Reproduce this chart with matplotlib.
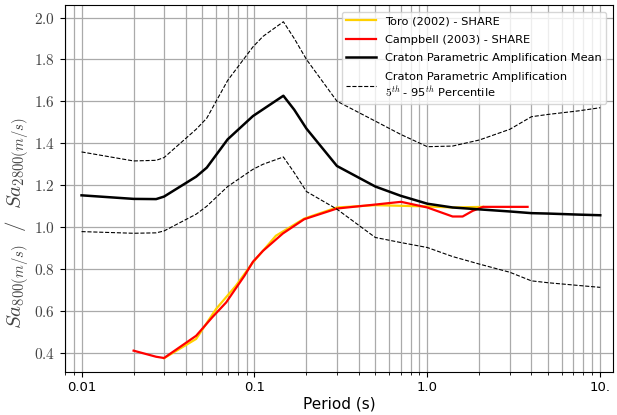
import numpy as np
import matplotlib
matplotlib.use('Agg')
import matplotlib.pyplot as plt
from matplotlib.ticker import FixedLocator, FuncFormatter, NullFormatter

plt.rcParams['mathtext.fontset'] = 'cm'
plt.rcParams['font.family'] = 'DejaVu Sans'

# Craton parametric amplification (mean, 5th and 95th percentile)
per_craton = [0.01, 0.02, 0.027, 0.03, 0.046, 0.053, 0.07, 0.098, 0.112, 0.147,
              0.17, 0.2, 0.3, 0.5, 0.7, 1.0, 1.4, 2.0, 3.0, 4.0, 5.0, 7.5, 10.0]
craton_mean = [1.152, 1.135, 1.134, 1.146, 1.241, 1.284, 1.419, 1.530, 1.562, 1.627,
               1.56, 1.47, 1.292, 1.194, 1.15, 1.112, 1.094, 1.085, 1.075, 1.067,
               1.065, 1.06, 1.057]
craton_p95 = [1.359, 1.316, 1.319, 1.332, 1.467, 1.52, 1.70, 1.86, 1.91, 1.98,
              1.90, 1.80, 1.601, 1.506, 1.443, 1.384, 1.387, 1.416, 1.467, 1.527,
              1.538, 1.555, 1.570]
craton_p05 = [0.979, 0.971, 0.973, 0.982, 1.062, 1.10, 1.194, 1.276, 1.30, 1.335,
              1.26, 1.17, 1.086, 0.951, 0.927, 0.903, 0.86, 0.824, 0.785, 0.744,
              0.735, 0.722, 0.713]

# Toro (2002) - SHARE
per_toro = [0.03, 0.046, 0.060, 0.078, 0.098, 0.133, 0.194, 0.3, 0.5, 1.0, 1.4, 2.1]
amp_toro = [0.375, 0.467, 0.610, 0.720, 0.832, 0.959, 1.041, 1.094, 1.105, 1.099,
            1.094, 1.097]

# Campbell (2003) - SHARE
per_camp = [0.02, 0.027, 0.03, 0.046, 0.057, 0.0686, 0.0875, 0.098, 0.112, 0.146,
            0.194, 0.3, 0.5, 0.705, 1.0, 1.4, 1.6, 1.83, 2.1, 3.8]
amp_camp = [0.411, 0.382, 0.376, 0.482, 0.570, 0.641, 0.768, 0.835, 0.887, 0.970,
            1.038, 1.089, 1.108, 1.121, 1.094, 1.051, 1.051, 1.078, 1.097, 1.097]

x_ticks = [0.01, 0.1, 1.0, 10.0]
x_tick_labels = ['0.01', '0.1', '1.0', '10.']
y_ticks = [0.4, 0.6, 0.8, 1.0, 1.2, 1.4, 1.6, 1.8, 2.0]

fig = plt.figure(figsize=(6.17, 4.15), dpi=100)
ax = fig.add_axes([0.105, 0.104, 0.889, 0.884])

ax.plot(per_toro, amp_toro, color='#FFD000', lw=1.6, label='Toro (2002) - SHARE')
ax.plot(per_camp, amp_camp, color='red', lw=1.6, label='Campbell (2003) - SHARE')
ax.plot(per_craton, craton_mean, color='black', lw=1.8,
        label='Craton Parametric Amplification Mean')
ax.plot(per_craton, craton_p95, color='black', lw=0.8, ls='--',
        label='Craton Parametric Amplification\n' + r'$5^{th}$ - 95$^{th}$ Percentile')
ax.plot(per_craton, craton_p05, color='black', lw=0.8, ls='--')

ax.set_xscale('log')
ax.set_xlim(0.008, 11.9)
ax.set_ylim(0.31, 2.06)
ax.xaxis.set_major_locator(FixedLocator(x_ticks))
ax.set_xticklabels(x_tick_labels)
ax.xaxis.set_minor_formatter(NullFormatter())
ax.yaxis.set_major_locator(FixedLocator(y_ticks))
ax.yaxis.set_major_formatter(FuncFormatter(lambda v, p: r'$%.1f$' % v))
ax.tick_params(axis='y', labelsize=11, labelcolor='#444444')
ax.tick_params(axis='x', labelsize=9.5, pad=3)

ax.grid(True, which='both', axis='x', color='#aaaaaa', lw=0.9)
ax.grid(True, which='major', axis='y', color='#aaaaaa', lw=0.9)
ax.set_axisbelow(True)

ax.set_xlabel('Period (s)', fontsize=11, labelpad=2)
ax.set_ylabel(r'$Sa_{800(m/s)}\ \ /\ \ Sa_{2800(m/s)}$', fontsize=15, color='#444444')
ax.yaxis.set_label_coords(-0.062, 0.405)

ax.legend(loc='upper right', fontsize=8.2, handlelength=2.6, labelspacing=0.75,
          borderaxespad=0.6)

fig.savefig('out.png', dpi=100)
